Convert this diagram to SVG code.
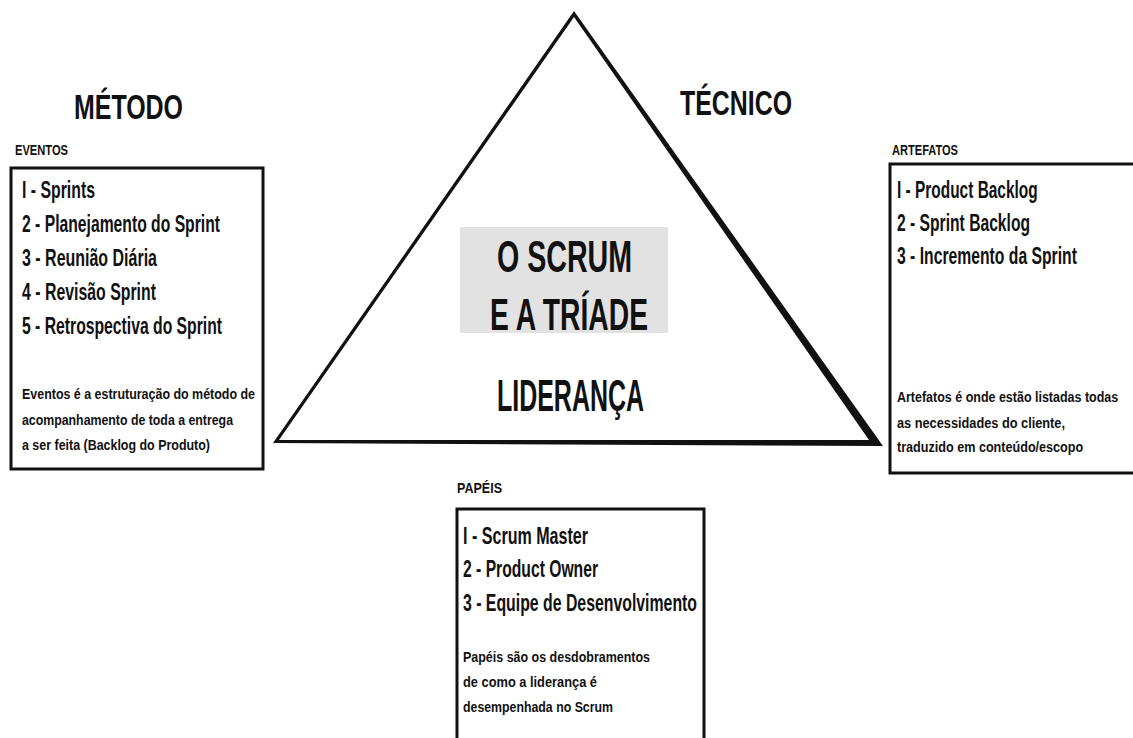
<svg xmlns="http://www.w3.org/2000/svg" width="1133" height="738" viewBox="0 0 1133 738">
<style>
text{font-family:"Liberation Sans",Arial,sans-serif;font-weight:bold;fill:#111}
.title{font-size:35px}
.sub{font-size:15px}
.item{font-size:24px}
.para{font-size:15.5px}
.center{font-size:45px}
.box{fill:none;stroke:#111;stroke-width:3}
</style>
<rect width="1133" height="738" fill="#fff"/>
<g id="triangle">
<path d="M574,11 L273,443 L883,446 Z M574,17 L869,440 L279,440 Z" fill="#111" fill-rule="evenodd"/>
<rect x="460" y="227" width="208" height="106" fill="#e2e2e2"/>
<text class="center" x="497" y="272" textLength="135" lengthAdjust="spacingAndGlyphs">O SCRUM</text>
<text class="center" x="490" y="330" textLength="158" lengthAdjust="spacingAndGlyphs">E A TRÍADE</text>
<text class="center" x="497" y="411" font-size="43" textLength="147" lengthAdjust="spacingAndGlyphs">LIDERANÇA</text>
</g>
<g id="labels">
<text class="title" x="74" y="119" textLength="109" lengthAdjust="spacingAndGlyphs">MÉTODO</text>
<text class="title" x="680" y="115" textLength="112" lengthAdjust="spacingAndGlyphs">TÉCNICO</text>
</g>
<g id="eventos">
<text class="sub" x="15" y="155" textLength="53" lengthAdjust="spacingAndGlyphs">EVENTOS</text>
<rect class="box" x="11" y="168" width="252" height="301"/>
<text class="item" x="22" y="198" textLength="73" lengthAdjust="spacingAndGlyphs">I - Sprints</text>
<text class="item" x="22" y="232" textLength="198" lengthAdjust="spacingAndGlyphs">2 - Planejamento do Sprint</text>
<text class="item" x="22" y="266" textLength="135" lengthAdjust="spacingAndGlyphs">3 - Reunião Diária</text>
<text class="item" x="22" y="300" textLength="134" lengthAdjust="spacingAndGlyphs">4 - Revisão Sprint</text>
<text class="item" x="22" y="334" textLength="200" lengthAdjust="spacingAndGlyphs">5 - Retrospectiva do Sprint</text>
<text class="para" x="22" y="399" textLength="233" lengthAdjust="spacingAndGlyphs">Eventos é a estruturação do método de</text>
<text class="para" x="22" y="425" textLength="211" lengthAdjust="spacingAndGlyphs">acompanhamento de toda a entrega</text>
<text class="para" x="22" y="450" textLength="188" lengthAdjust="spacingAndGlyphs">a ser feita (Backlog do Produto)</text>
</g>
<g id="artefatos">
<text class="sub" x="892" y="155" textLength="66" lengthAdjust="spacingAndGlyphs">ARTEFATOS</text>
<path class="box" d="M1133,164 H890 V473 H1133"/>
<text class="item" transform="translate(897,198) scale(0.7,1)" x="0" y="0" textLength="201" lengthAdjust="spacingAndGlyphs">I - Product Backlog</text>
<text class="item" transform="translate(897,231) scale(0.7,1)" x="0" y="0" textLength="190" lengthAdjust="spacingAndGlyphs">2 - Sprint Backlog</text>
<text class="item" transform="translate(897,264) scale(0.7,1)" x="0" y="0" textLength="257" lengthAdjust="spacingAndGlyphs">3 - Incremento da Sprint</text>
<text class="para" transform="translate(897,402) scale(0.7,1)" x="0" y="0" textLength="316" lengthAdjust="spacingAndGlyphs">Artefatos é onde estão listadas todas</text>
<text class="para" transform="translate(897,428) scale(0.7,1)" x="0" y="0" textLength="240" lengthAdjust="spacingAndGlyphs">as necessidades do cliente,</text>
<text class="para" transform="translate(897,452) scale(0.7,1)" x="0" y="0" textLength="266" lengthAdjust="spacingAndGlyphs">traduzido em conteúdo/escopo</text>
</g>
<g id="papeis">
<text class="sub" x="457" y="493" textLength="45" lengthAdjust="spacingAndGlyphs">PAPÉIS</text>
<path class="box" d="M457,738 V509 H704 V738"/>
<text class="item" x="463" y="544" textLength="125" lengthAdjust="spacingAndGlyphs">I - Scrum Master</text>
<text class="item" x="463" y="577" textLength="135" lengthAdjust="spacingAndGlyphs">2 - Product Owner</text>
<text class="item" x="463" y="611" textLength="234" lengthAdjust="spacingAndGlyphs">3 - Equipe de Desenvolvimento</text>
<text class="para" x="463" y="662" textLength="187" lengthAdjust="spacingAndGlyphs">Papéis são os desdobramentos</text>
<text class="para" x="463" y="687" textLength="134" lengthAdjust="spacingAndGlyphs">de como a liderança é</text>
<text class="para" x="463" y="712" textLength="150" lengthAdjust="spacingAndGlyphs">desempenhada no Scrum</text>
</g>
<g id="connectors"></g>
</svg>
